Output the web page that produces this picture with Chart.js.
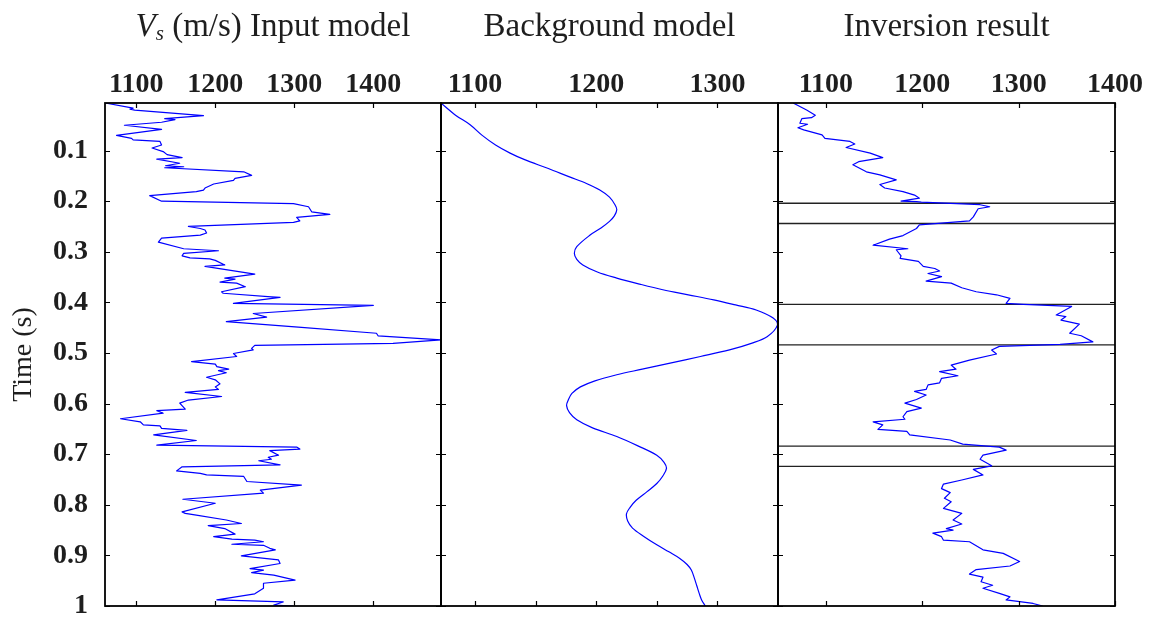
<!DOCTYPE html>
<html>
<head>
<meta charset="utf-8">
<title>Vs inversion</title>
<script src="https://cdn.jsdelivr.net/npm/chart.js@4.4.0/dist/chart.umd.min.js"></script>
<style>
  html, body { margin: 0; padding: 0; background: #fff; }
  #wrap { position: relative; width: 1154px; height: 619px; }
  #wrap canvas { position: absolute; left: 0; top: 0; }
</style>
</head>
<body>
<div id="wrap">
  <canvas id="inputChart" width="1154" height="619"></canvas>
  <canvas id="backgroundChart" width="1154" height="619"></canvas>
  <canvas id="inversionChart" width="1154" height="619"></canvas>
</div>
<script>
// ---- data ----
// Input model (well log), time in s and Vs in m/s
const inputTime = [0.006, 0.016, 0.018, 0.020, 0.031, 0.037, 0.039, 0.044, 0.050, 0.058, 0.070, 0.076, 0.079, 0.082, 0.089, 0.095,
  0.102, 0.108, 0.114, 0.117, 0.125, 0.130, 0.132, 0.134, 0.142, 0.149, 0.155, 0.159, 0.166, 0.174, 0.178, 0.181, 0.189, 0.200,
  0.205, 0.211, 0.221, 0.226, 0.232, 0.239, 0.242, 0.250, 0.254, 0.257, 0.263, 0.267, 0.273, 0.281, 0.294, 0.298, 0.303, 0.308,
  0.312, 0.314, 0.317, 0.326, 0.329, 0.344, 0.352, 0.354, 0.360, 0.362, 0.369, 0.379, 0.382, 0.389, 0.390, 0.402, 0.406, 0.422,
  0.429, 0.438, 0.449, 0.461, 0.466, 0.474, 0.481, 0.485, 0.491, 0.494, 0.501, 0.507, 0.517, 0.522, 0.527, 0.532, 0.535, 0.539,
  0.548, 0.553, 0.561, 0.567, 0.572, 0.578, 0.586, 0.593, 0.599, 0.611, 0.614, 0.619, 0.630, 0.636, 0.642, 0.644, 0.649, 0.653,
  0.662, 0.673, 0.682, 0.686, 0.690, 0.693, 0.702, 0.706, 0.710, 0.713, 0.721, 0.725, 0.733, 0.738, 0.741, 0.744, 0.754, 0.761,
  0.771, 0.777, 0.789, 0.797, 0.814, 0.817, 0.820, 0.830, 0.837, 0.841, 0.847, 0.858, 0.863, 0.868, 0.870, 0.873, 0.878, 0.880,
  0.886, 0.889, 0.901, 0.909, 0.916, 0.926, 0.929, 0.934, 0.939, 0.949, 0.955, 0.965, 0.976, 0.988, 0.992, 0.998, 1.000];
const inputVs = [1060.4, 1096, 1092, 1098, 1185, 1136, 1149, 1132, 1085, 1132, 1075, 1094, 1096, 1130, 1132, 1120,
  1134, 1139, 1158, 1126, 1155, 1137, 1160, 1136, 1236, 1246, 1225, 1223, 1198, 1187, 1185, 1176, 1117, 1132,
  1299, 1318, 1322, 1345, 1303, 1307, 1299, 1166, 1181, 1187, 1189, 1181, 1132, 1128, 1160, 1204, 1160, 1158,
  1168, 1193, 1200, 1212, 1187, 1250, 1212, 1225, 1206, 1227, 1238, 1208, 1210, 1271, 1282, 1223, 1400, 1248,
  1265, 1214, 1305, 1404, 1406, 1485.7, 1425, 1250, 1246, 1248, 1223, 1227, 1170, 1200, 1202, 1217, 1204, 1214,
  1189, 1200, 1206, 1200, 1204, 1162, 1208, 1166, 1155, 1162, 1126, 1134, 1080, 1105, 1109, 1130, 1132, 1164,
  1122, 1176, 1126, 1303, 1307, 1269, 1280, 1267, 1271, 1255, 1282, 1158, 1151, 1181, 1189, 1236, 1240, 1309,
  1257, 1261, 1159, 1200, 1158, 1162, 1174, 1214, 1233, 1191, 1212, 1225, 1198, 1221, 1250, 1261, 1221, 1261,
  1269, 1276, 1233, 1280, 1282, 1244, 1261, 1246, 1274, 1301, 1261, 1261, 1250, 1202, 1286, 1274, 1299];

// Smooth background model
const backgroundTime = [0.006, 0.030, 0.049, 0.070, 0.089, 0.105, 0.118, 0.135, 0.152, 0.165, 0.178, 0.192, 0.207, 0.217, 0.229,
  0.240, 0.253, 0.267, 0.290, 0.303, 0.315, 0.326, 0.340, 0.352, 0.364, 0.375, 0.385, 0.395, 0.405, 0.415, 0.431, 0.445, 0.468,
  0.481, 0.494, 0.507, 0.520, 0.532, 0.543, 0.555, 0.567, 0.580, 0.593, 0.604, 0.618, 0.632, 0.648, 0.665, 0.683, 0.702, 0.716,
  0.728, 0.743, 0.758, 0.774, 0.791, 0.805, 0.818, 0.832, 0.846, 0.862, 0.879, 0.893, 0.906, 0.918, 0.929, 0.945, 0.960, 0.975,
  0.988, 1.000];
const backgroundVs = [1072, 1084, 1096, 1106, 1117, 1129, 1141, 1160, 1178, 1192, 1203, 1211, 1215.5, 1217, 1215,
  1211, 1204, 1195, 1184, 1182, 1184, 1189, 1201, 1217, 1236, 1255, 1276, 1297, 1315, 1332, 1346, 1349.5, 1341,
  1328, 1310, 1286, 1261, 1238, 1217, 1199, 1187, 1180, 1177, 1175.6, 1178, 1184, 1197, 1217, 1234, 1250, 1256,
  1258, 1255, 1250, 1242, 1233, 1228, 1225, 1226, 1230, 1239, 1250, 1260, 1269, 1275, 1278.5, 1281, 1283, 1285,
  1287, 1290];

// Inversion result
const inversionTime = [0.006, 0.020, 0.030, 0.035, 0.037, 0.046, 0.048, 0.055, 0.059, 0.069, 0.076, 0.082, 0.087, 0.094, 0.105,
  0.114, 0.122, 0.128, 0.142, 0.148, 0.158, 0.167, 0.174, 0.181, 0.188, 0.194, 0.200, 0.201, 0.202, 0.207, 0.211, 0.215, 0.231,
  0.239, 0.247, 0.254, 0.268, 0.275, 0.287, 0.294, 0.296, 0.308, 0.313, 0.319, 0.329, 0.333, 0.338, 0.343, 0.349, 0.358, 0.362,
  0.371, 0.379, 0.385, 0.392, 0.402, 0.404, 0.408, 0.425, 0.428, 0.435, 0.443, 0.461, 0.466, 0.478, 0.483, 0.487, 0.494, 0.502,
  0.514, 0.524, 0.532, 0.537, 0.545, 0.550, 0.559, 0.563, 0.572, 0.576, 0.583, 0.592, 0.599, 0.609, 0.616, 0.626, 0.631, 0.636,
  0.642, 0.651, 0.655, 0.662, 0.672, 0.680, 0.686, 0.692, 0.702, 0.710, 0.723, 0.730, 0.741, 0.751, 0.759, 0.768, 0.776, 0.787,
  0.794, 0.807, 0.817, 0.830, 0.838, 0.847, 0.850, 0.856, 0.863, 0.870, 0.873, 0.889, 0.896, 0.912, 0.921, 0.928, 0.937, 0.943,
  0.952, 0.959, 0.965, 0.975, 0.982, 0.988, 0.995, 1.000];
const inversionVs = [1066, 1080, 1089, 1085, 1075, 1073, 1081, 1071, 1077, 1096, 1099, 1125, 1130, 1121, 1146,
  1159, 1134, 1128, 1142, 1156, 1173, 1156, 1161, 1180, 1192, 1197, 1178, 1194, 1199, 1260, 1270, 1258, 1253,
  1249, 1197, 1194, 1180, 1166, 1149, 1185, 1173, 1178, 1177, 1196, 1201, 1213, 1218, 1206, 1220, 1204, 1230,
  1241, 1256, 1277, 1291, 1287, 1305, 1355, 1339, 1349, 1344, 1363, 1353, 1365, 1377, 1343, 1280, 1272, 1277,
  1249, 1230, 1235, 1218, 1237, 1220, 1218, 1206, 1204, 1192, 1204, 1194, 1182, 1199, 1184, 1180, 1182, 1149,
  1159, 1154, 1184, 1187, 1229, 1242, 1280, 1287, 1263, 1260, 1272, 1253, 1263, 1241, 1222, 1220, 1229, 1223,
  1230, 1222, 1241, 1232, 1241, 1225, 1232, 1211, 1220, 1222, 1249, 1263, 1284, 1301, 1291, 1256, 1249, 1263,
  1261, 1273, 1263, 1280, 1291, 1287, 1315, 1325];

// Layer boundaries marked on the inversion panel
const layerTimes = [0.204, 0.244, 0.404, 0.484, 0.684, 0.724];

// Axis ticks
const timeTicks = [0.1, 0.2, 0.3, 0.4, 0.5, 0.6, 0.7, 0.8, 0.9, 1];
const inputTicks = [1100, 1200, 1300, 1400];
const backgroundTicks = [1100, 1150, 1200, 1250, 1300];
const inversionTicks = [1100, 1200, 1300, 1400];

// ---- layout ----
const W = 1154, H = 619;
const PLOT_TOP = 103, PLOT_BOTTOM = 606;
const SERIF = "'Liberation Serif', 'Times New Roman', serif";
const TEXT = '#1e1e1e';

// Frame, inward ticks on all four sides and the panel title
const panelFrame = {
  id: 'panelFrame',
  afterDraw(chart, args, opts) {
    const { ctx, chartArea: a, scales: { x, y } } = chart;
    ctx.save();
    ctx.strokeStyle = '#000';
    ctx.lineWidth = 1.2;
    ctx.beginPath();
    opts.xTicks.forEach(v => {
      const px = Math.round(x.getPixelForValue(v)) + 0.5;
      ctx.moveTo(px, a.top); ctx.lineTo(px, a.top + 5);
      ctx.moveTo(px, a.bottom); ctx.lineTo(px, a.bottom - 5);
    });
    timeTicks.forEach(t => {
      const py = Math.round(y.getPixelForValue(t)) + 0.5;
      ctx.moveTo(a.left, py); ctx.lineTo(a.left + 5, py);
      ctx.moveTo(a.right, py); ctx.lineTo(a.right - 5, py);
    });
    ctx.stroke();
    ctx.lineWidth = 1.8;
    ctx.strokeRect(a.left, a.top, a.right - a.left, a.bottom - a.top);

    // title, built from styled pieces (for the italic V with subscript s)
    ctx.fillStyle = TEXT;
    ctx.textBaseline = 'alphabetic';
    ctx.textAlign = 'left';
    let total = 0;
    opts.title.forEach(p => { ctx.font = p.font; total += ctx.measureText(p.text).width; });
    let cx = (a.left + a.right) / 2 - total / 2;
    opts.title.forEach(p => {
      ctx.font = p.font;
      ctx.fillText(p.text, cx, 36 + (p.dy || 0));
      cx += ctx.measureText(p.text).width;
    });
    ctx.restore();
  }
};

function makePanel(id, cfg) {
  const datasets = [{
    data: cfg.time.map((t, i) => ({ x: cfg.vs[i], y: t })),
    showLine: true,
    borderColor: '#0000ff',
    borderWidth: 1.2,
    borderJoinStyle: 'round',
    pointRadius: 0,
    tension: cfg.tension || 0
  }];
  (cfg.layers || []).forEach(t => {
    datasets.push({
      data: [{ x: cfg.xMin, y: t }, { x: cfg.xMax, y: t }],
      showLine: true,
      borderColor: '#222',
      borderWidth: 1.4,
      pointRadius: 0
    });
  });

  return new Chart(document.getElementById(id), {
    type: 'scatter',
    data: { datasets },
    options: {
      responsive: false,
      animation: false,
      devicePixelRatio: 1,
      layout: { padding: { left: cfg.left, right: W - cfg.right, top: 0, bottom: H - PLOT_BOTTOM } },
      plugins: {
        legend: { display: false },
        tooltip: { enabled: false },
        panelFrame: { xTicks: cfg.xTicks, title: cfg.title }
      },
      scales: {
        x: {
          type: 'linear',
          position: 'top',
          min: cfg.xMin,
          max: cfg.xMax,
          grid: { display: false, drawTicks: false },
          border: { display: false },
          afterBuildTicks: s => { s.ticks = cfg.xTicks.map(v => ({ value: v })); },
          afterFit: s => { s.height = PLOT_TOP; s.paddingLeft = 0; s.paddingRight = 0; },
          ticks: {
            autoSkip: false,
            maxRotation: 0,
            padding: 1,
            color: TEXT,
            font: { family: SERIF, size: 28, weight: 'bold', lineHeight: 1.2 },
            callback: v => (v % 100 === 0 ? String(v) : '')
          }
        },
        y: {
          type: 'linear',
          reverse: true,
          min: 0.006,
          max: 1,
          display: cfg.showTime,
          grid: { display: false, drawTicks: false },
          border: { display: false },
          afterBuildTicks: s => { s.ticks = timeTicks.map(v => ({ value: v })); },
          afterFit: s => { s.width = cfg.left === 0 ? 105 : 0; s.paddingTop = 0; s.paddingBottom = 0; },
          ticks: {
            autoSkip: false,
            padding: 17,
            color: TEXT,
            font: { family: SERIF, size: 28, weight: 'bold', lineHeight: 1.2 },
            callback: v => (v === 1 ? '1' : v.toFixed(1))
          },
          title: {
            display: true,
            text: 'Time (s)',
            color: TEXT,
            font: { family: SERIF, size: 28, lineHeight: 1.2 },
            padding: { top: 7, bottom: 0 }
          }
        }
      }
    },
    plugins: [panelFrame]
  });
}

const titleFont = '33px ' + SERIF;

makePanel('inputChart', {
  time: inputTime, vs: inputVs,
  xMin: 1060.4, xMax: 1485.7, xTicks: inputTicks,
  left: 0, right: 441, showTime: true,
  title: [
    { text: 'V', font: 'italic 33px ' + SERIF },
    { text: 's', font: 'italic 21px ' + SERIF, dy: 4 },
    { text: ' (m/s) Input model', font: titleFont }
  ]
});

makePanel('backgroundChart', {
  time: backgroundTime, vs: backgroundVs, tension: 0.35,
  xMin: 1072, xMax: 1350, xTicks: backgroundTicks,
  left: 441, right: 778, showTime: false,
  title: [{ text: 'Background model', font: titleFont }]
});

makePanel('inversionChart', {
  time: inversionTime, vs: inversionVs, layers: layerTimes,
  xMin: 1050.3, xMax: 1400, xTicks: inversionTicks,
  left: 778, right: 1115, showTime: false,
  title: [{ text: 'Inversion result', font: titleFont }]
});
</script>
</body>
</html>
